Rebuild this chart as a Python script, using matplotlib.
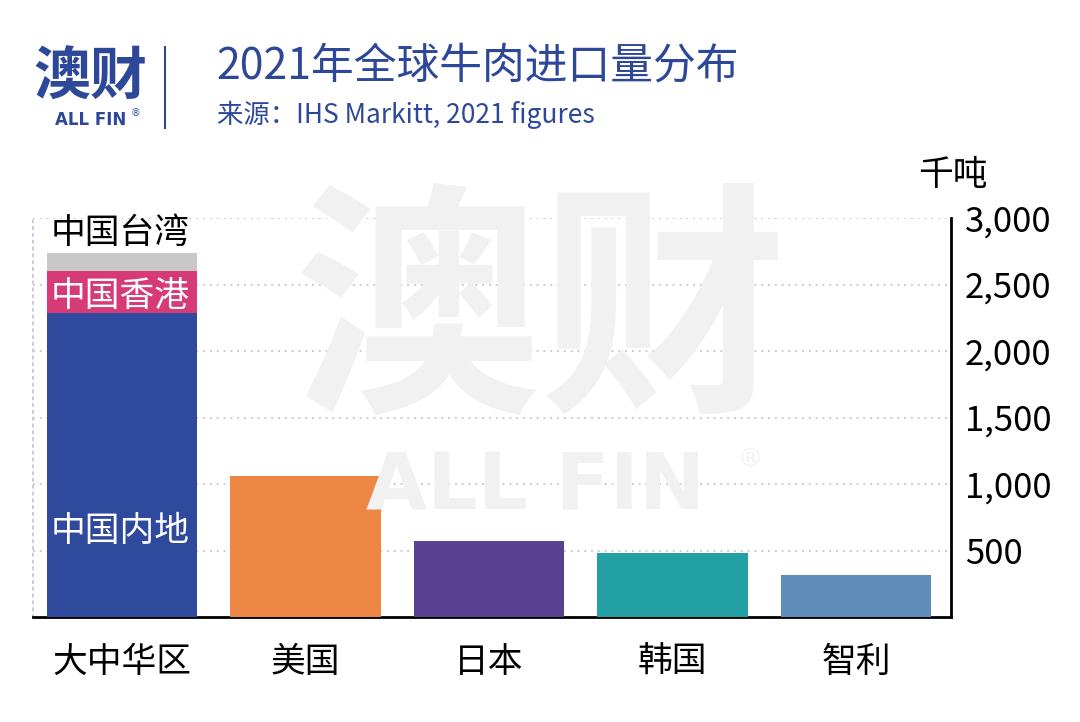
import matplotlib
matplotlib.use("Agg")
import matplotlib.pyplot as plt
from matplotlib.ticker import FuncFormatter

plt.rcParams['font.family'] = ['Noto Sans CJK SC', 'DejaVu Sans']

# ---- data (thousand tonnes) ----
categories = ["大中华区", "美国", "日本", "韩国", "智利"]
mainland = 2285
hongkong = 316
taiwan = 138
others = [1057, 575, 483, 317]
other_colors = ["#EE8646", "#58418E", "#22A0A4", "#5E8DBA"]
yticks = [500, 1000, 1500, 2000, 2500, 3000]

BLUE = "#2F4A9C"
PINK = "#D63B78"
GRAY = "#C8C8C8"
TITLE_BLUE = "#2E4899"
WM = "#F0F1F0"

fig = plt.figure(figsize=(10.8, 7.22), dpi=100)
W, H = 1080, 722

def fx(px):
    return px / W

def fy(py):
    return 1 - py / H

# watermark
fig.text(fx(540), fy(320), "澳财", fontsize=178, fontweight='bold', color=WM,
         ha='center', va='center', zorder=0)
fig.text(fx(536), fy(488), "ALL FIN", fontsize=57, fontweight='bold', color=WM,
         ha='center', va='center', zorder=0, family=['DejaVu Sans'])
fig.text(fx(750), fy(460), "®", fontsize=18, color=WM,
         ha='center', va='center', zorder=0, family=['DejaVu Sans'])

ax = fig.add_axes([fx(33), fy(617), fx(951) - fx(33), fy(218) - fy(617)])
ax.patch.set_alpha(0)

x = list(range(len(categories)))
w = 0.82
ax.bar(x[0], mainland, width=w, color=BLUE, zorder=3)
ax.bar(x[0], hongkong, width=w, bottom=mainland, color=PINK, zorder=3)
ax.bar(x[0], taiwan, width=w, bottom=mainland + hongkong, color=GRAY, zorder=3)
ax.bar(x[1:], others, width=w, color=other_colors, zorder=3)

ax.set_xlim(-0.485, 4.518)
ax.set_ylim(0, 3000)

left = x[0] - w / 2 + 0.02
ax.text(left, mainland + hongkong + taiwan + 15, "中国台湾", fontsize=25, color="black",
        ha='left', va='bottom', zorder=4)
ax.text(left, mainland + hongkong / 2 - 30, "中国香港", fontsize=25, color="white",
        ha='left', va='center', zorder=4)
ax.text(left, 640, "中国内地", fontsize=25, color="white",
        ha='left', va='center', zorder=4)

ax.yaxis.tick_right()
ax.set_yticks(yticks)
ax.yaxis.set_major_formatter(FuncFormatter(lambda v, p: f"{int(v):,}"))
ax.tick_params(axis='y', length=0, labelsize=25, pad=10)
ax.set_xticks(x)
ax.set_xticklabels(categories)
ax.tick_params(axis='x', length=0, labelsize=25, pad=20)
ax.grid(axis='y', linestyle=(0, (1, 2.5)), color="#CBCBDA", linewidth=1.4, zorder=1)

ax.spines['top'].set_visible(False)
ax.spines['left'].set_linestyle((0, (1, 2.5)))
ax.spines['left'].set_color("#CBCBDA")
ax.spines['left'].set_linewidth(1.4)
ax.spines['right'].set_linewidth(2)
ax.spines['bottom'].set_linewidth(2)

fig.text(fx(953), fy(176), "千吨", fontsize=25, ha='center', va='center')

# header / logo
fig.text(fx(90), fy(78), "澳财", fontsize=41, fontweight='bold', color=TITLE_BLUE,
         ha='center', va='center')
fig.text(fx(91), fy(120), "ALL FIN", fontsize=12, fontweight='bold', color=TITLE_BLUE,
         ha='center', va='center', family=['DejaVu Sans'])
fig.text(fx(135), fy(113), "®", fontsize=7, color=TITLE_BLUE, ha='center', va='center',
         family=['DejaVu Sans'])
fig.add_artist(plt.Line2D([fx(165), fx(165)], [fy(47), fy(128)], color=TITLE_BLUE,
                          linewidth=1.5, transform=fig.transFigure))
fig.text(fx(216), fy(66), "2021年全球牛肉进口量分布", fontsize=30.8, color=TITLE_BLUE,
         ha='left', va='center')
fig.text(fx(217), fy(115), "来源：IHS Markitt, 2021 figures", fontsize=19, color=TITLE_BLUE,
         ha='left', va='center')

fig.savefig("out.png", dpi=100)
